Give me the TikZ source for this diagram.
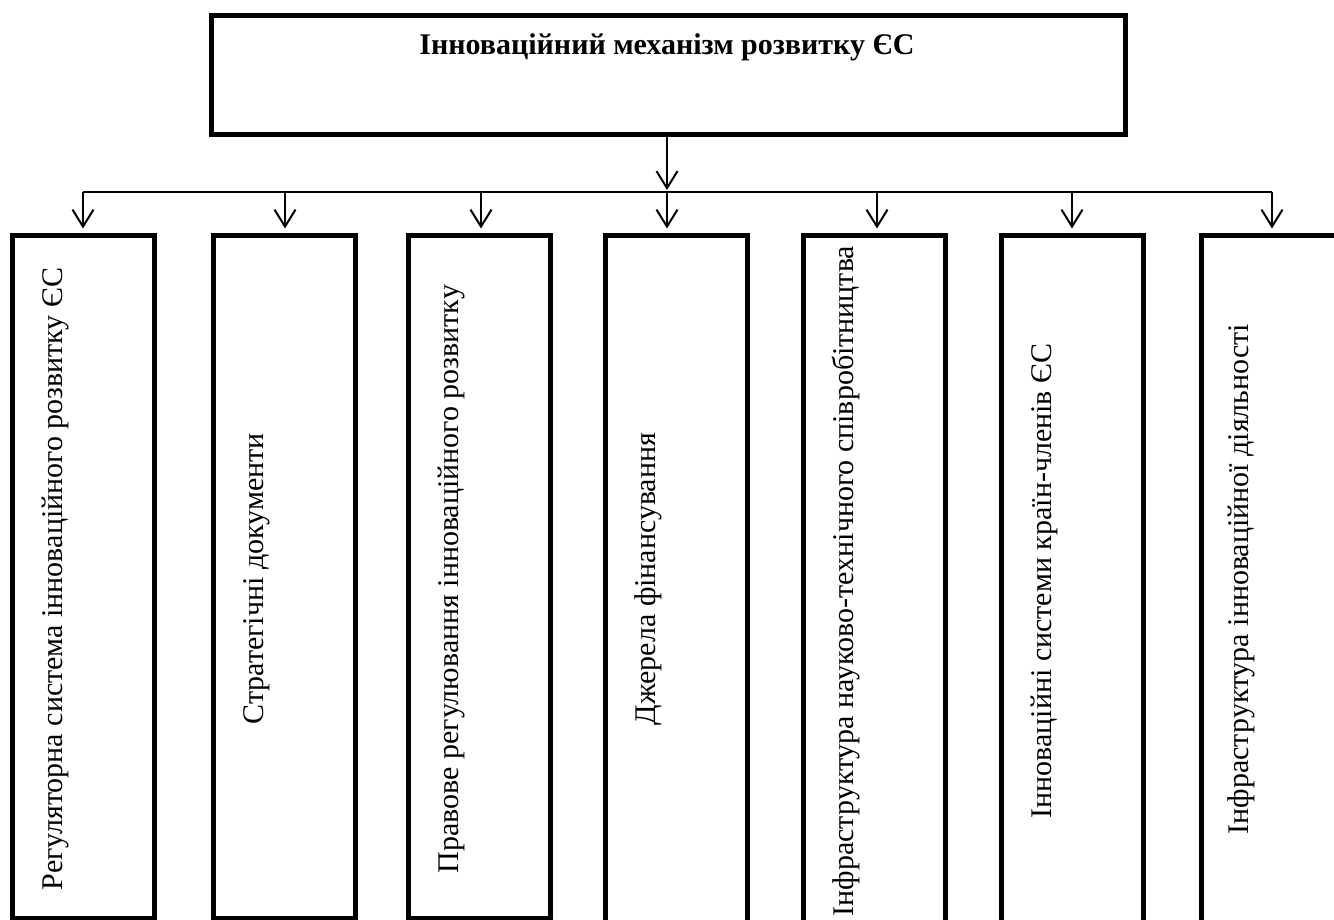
\documentclass[tikz,border=0pt]{standalone}
\usepackage{fontspec}
\setmainfont{Liberation Serif}
\usetikzlibrary{arrows.meta}
\begin{document}
\begin{tikzpicture}[x=1pt,y=-1pt,
  box/.style={draw, line width=5pt, rectangle, inner sep=0pt, minimum width=142pt},
  lbl/.style={rotate=90, anchor=base, inner sep=0pt, font=\fontsize{30}{36}\selectfont},
  conn/.style={line width=2pt},
  arr/.style={conn, -{Straight Barb[length=17pt,width=21pt,line width=2pt]}}]
\useasboundingbox (0,0) rectangle (1334,920);
\clip (0,0) rectangle (1334,920);
% top box
\node[draw, line width=5pt, rectangle, inner sep=0pt, minimum width=914pt, minimum height=119pt] (top) at (668.5,75) {};
\node[anchor=base, inner sep=0pt, font=\fontsize{30}{36}\selectfont\bfseries] (title) at (667,55) {Інноваційний механізм розвитку ЄС};
% lower boxes
\node[box, minimum height=683pt] (b1) at (83.5,577) {};
\node[box, minimum height=683pt] (b2) at (284.5,577) {};
\node[box, minimum height=683pt] (b3) at (479.5,577) {};
\node[box, minimum height=700pt] (b4) at (676.5,585.5) {};
\node[box, minimum height=700pt] (b5) at (874.5,585.5) {};
\node[box, minimum height=700pt] (b6) at (1072.5,585.5) {};
\node[box, minimum height=700pt] (b7) at (1272.5,585.5) {};
% labels
\node[lbl] (t1) at (62,579) {Регуляторна система інноваційного розвитку ЄС};
\node[lbl] (t2) at (263,579) {Стратегічні документи};
\node[lbl] (t3) at (458,579) {Правове регулювання інноваційного розвитку};
\node[lbl] (t4) at (655,579) {Джерела фінансування};
\node[lbl] (t5) at (853,581) {Інфраструктура науково-технічного співробітництва};
\node[lbl] (t6) at (1051,581) {Інноваційні системи країн-членів ЄС};
\node[lbl] (t7) at (1248,579) {Інфраструктура інноваційної діяльності};
% bus
\coordinate (j) at (667,192);
\coordinate (c1) at (83,192);
\coordinate (c2) at (285,192);
\coordinate (c3) at (481,192);
\coordinate (c4) at (667,192);
\coordinate (c5) at (877,192);
\coordinate (c6) at (1072,192);
\coordinate (c7) at (1272,192);
\draw[arr, shorten >=2pt] (top.south -| j) -- (j);
\draw[conn] (c1) -- (c7);
\foreach \k in {1,...,7}{
  \draw[arr, shorten >=4.5pt] (c\k) -- (b\k.north -| c\k);
}
\end{tikzpicture}
\end{document}
